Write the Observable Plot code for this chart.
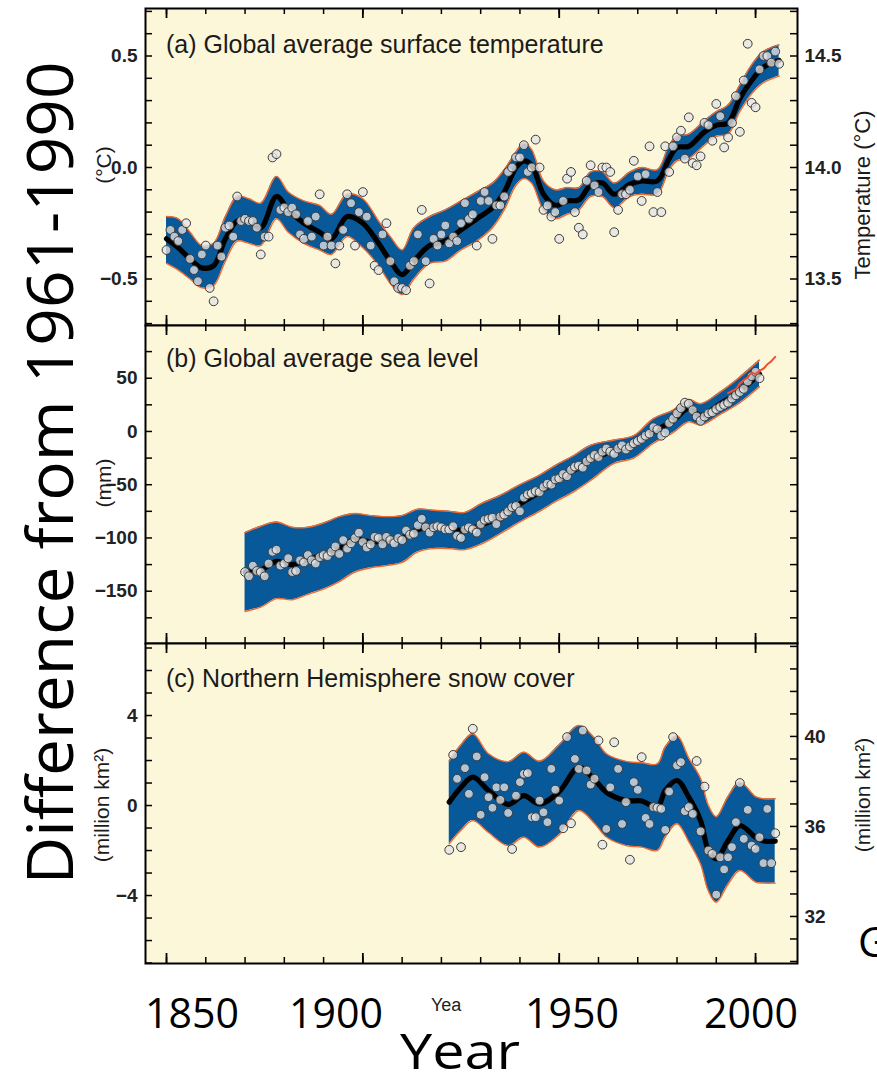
<!DOCTYPE html>
<html><head><meta charset="utf-8">
<script src="https://cdn.jsdelivr.net/npm/d3@7"></script>
<script src="https://cdn.jsdelivr.net/npm/@observablehq/plot@0.6"></script>
<style>
html,body{margin:0;padding:0;background:#fff;}
#root{position:relative;width:877px;height:1083px;overflow:hidden;background:#fff;}
#root > svg{position:absolute;left:0;}
</style></head><body><div id="root"></div>
<script>
// ---------- DATA ----------
// (a) Global average surface temperature, annual anomalies (°C), 1850-2006
const tempStart = 1850;
const tempValues = [
 -0.37,-0.28,-0.31,-0.33,-0.28,-0.25,-0.41,-0.46,-0.51,-0.39,
 -0.35,-0.54,-0.60,-0.35,-0.40,-0.27,-0.26,-0.31,-0.13,-0.24,
 -0.23,-0.24,-0.24,-0.27,-0.39,-0.31,-0.31,0.045,0.06,-0.19,
 -0.18,-0.20,-0.18,-0.21,-0.30,-0.32,-0.24,-0.31,-0.22,-0.12,
 -0.35,-0.31,-0.35,-0.43,-0.35,-0.28,-0.12,-0.16,-0.35,-0.20,
 -0.11,-0.22,-0.35,-0.44,-0.46,-0.30,-0.25,-0.42,-0.51,-0.54,
 -0.54,-0.55,-0.44,-0.42,-0.30,-0.19,-0.42,-0.52,-0.32,-0.35,
 -0.30,-0.26,-0.34,-0.31,-0.33,-0.25,-0.16,-0.23,-0.21,
 -0.35,-0.15,-0.11,-0.15,-0.32,-0.17,-0.17,-0.13,-0.02,0.0,
 0.045,0.045,0.10,-0.02,0.0,0.125,0.0,-0.19,-0.17,-0.22,
 -0.20,-0.32,-0.15,-0.05,-0.02,-0.20,-0.27,-0.30,-0.06,0.01,
 -0.08,-0.11,0.0,0.0,-0.02,-0.29,-0.19,-0.12,-0.12,-0.10,
 0.03,-0.04,-0.15,-0.03,0.095,-0.20,-0.11,-0.20,0.095,-0.02,
 0.095,0.135,0.165,0.04,0.225,0.02,0.01,0.05,0.20,0.19,
 0.12,0.285,0.23,0.09,0.135,0.20,0.32,0.16,0.39,0.555,
 0.29,0.27,0.44,0.50,0.50,0.47,0.52,0.465
];
const tempBandYears = [1850,1853,1856,1859,1862,1865,1868,1871,1874,1878,1881,1885,1889,1892,1896,1900,1904,1907,1910,1913,1917,1921,1925,1929,1933,1936,1939,1941,1943,1946,1949,1952,1955,1958,1961,1964,1968,1971,1975,1978,1980,1983,1987,1990,1993,1996,1999,2002,2006];
const tempSmooth = [-0.32,-0.36,-0.41,-0.45,-0.44,-0.32,-0.24,-0.24,-0.27,-0.13,-0.19,-0.25,-0.29,-0.32,-0.22,-0.25,-0.34,-0.42,-0.48,-0.42,-0.35,-0.33,-0.28,-0.23,-0.18,-0.11,0.0,0.03,0.01,-0.12,-0.17,-0.15,-0.145,-0.08,-0.07,-0.12,-0.075,-0.06,-0.06,0.04,0.09,0.095,0.16,0.19,0.20,0.31,0.39,0.45,0.48];
const tempLow = [-0.43,-0.46,-0.50,-0.54,-0.53,-0.42,-0.33,-0.34,-0.35,-0.23,-0.29,-0.34,-0.37,-0.39,-0.31,-0.36,-0.44,-0.52,-0.57,-0.50,-0.43,-0.42,-0.37,-0.33,-0.27,-0.19,-0.08,-0.05,-0.07,-0.19,-0.23,-0.21,-0.19,-0.13,-0.13,-0.18,-0.13,-0.12,-0.12,-0.01,0.03,0.04,0.10,0.14,0.15,0.25,0.33,0.38,0.41];
const tempHigh = [-0.22,-0.23,-0.29,-0.35,-0.34,-0.22,-0.13,-0.14,-0.16,-0.04,-0.11,-0.15,-0.17,-0.21,-0.12,-0.14,-0.24,-0.31,-0.37,-0.27,-0.22,-0.19,-0.15,-0.11,-0.07,-0.01,0.07,0.11,0.08,-0.06,-0.10,-0.09,-0.09,-0.02,-0.02,-0.07,-0.02,0.0,-0.01,0.10,0.14,0.15,0.21,0.25,0.28,0.37,0.46,0.52,0.55];

// (b) Global average sea level (mm), 1870-2001
const seaStart = 1870;
const seaValues = [
 -132,-136,-126,-131,-132,-136,-124,-113,-111,-126,
 -124,-119,-132,-131,-121,-123,-116,-121,-124,-118,
 -116,-117,-113,-108,-115,-102,-110,-105,-100,-95,
 -104,-109,-106,-99,-100,-106,-99,-102,-105,-100,
 -102,-93,-97,-96,-88,-82,-90,-95,-90,-89,
 -90,-92,-92,-89,-98,-100,-92,-90,-92,-95,
 -87,-83,-82,-81,-87,-80,-78,-75,-71,-70,
 -75,-62,-59,-58,-56,-57,-52,-49,-50,-45,
 -44,-40,-42,-36,-33,-32,-34,-28,-25,-22,
 -24,-19,-16,-19,-21,-16,-13,-17,-14,-11,
 -9,-7,-4,-2,4,2,-4,-1,8,12,
 17,22,27,26,20,14,10,14,17,18,
 21,23,25,27,31,34,37,40,47,52,
 56,50
];
const seaBandYears = [1870,1874,1878,1882,1886,1890,1894,1898,1902,1906,1910,1914,1918,1922,1926,1930,1935,1940,1945,1949,1954,1958,1964,1969,1974,1979,1983,1986,1991,1996,2001];
const seaSmooth = [-132,-130,-122,-125,-120,-116,-110,-101,-104,-102,-100,-92,-90,-91,-93,-88,-80,-68,-57,-47,-36,-27,-18,-13,0,10,22,15,26,38,54];
const seaLow = [-169,-165,-157,-158,-153,-148,-141,-132,-128,-126,-123,-113,-110,-110,-111,-106,-96,-85,-75,-66,-56,-46,-30,-25,-11,-1,9,6,16,27,42];
const seaHigh = [-95,-89,-85,-90,-90,-86,-80,-77,-79,-80,-79,-73,-74,-75,-76,-68,-60,-50,-41,-32,-22,-13,-8,-4,12,20,30,26,37,51,67];
const seaSatYears = [1993,1994,1995,1996,1997,1998,1999,2000,2001,2002,2003,2004,2005];
const seaSatValues = [36,38,40,45,48,51,55,54,57,59,63,66,70];

// (c) Northern Hemisphere snow cover (million km²), 1922-2005
const snowStart = 1922;
const snowValues = [
 -1.97,2.25,1.19,-1.85,1.66,0.52,3.41,2.18,-0.41,1.26,
 0.37,-0.10,0.81,0.25,0.81,-0.33,-1.93,0.44,1.04,1.41,
 1.44,-0.52,-0.52,0.22,-0.30,-0.74,1.63,0.71,0.22,-1.01,
 3.04,-0.79,2.07,1.63,3.33,1.56,0.93,1.19,2.89,-1.74,
 -1.04,0.81,2.81,1.63,-0.82,0.15,-2.41,1.04,0.70,2.15,
 -0.55,-0.82,-0.07,-0.10,-0.15,-1.08,0.62,3.04,1.78,1.93,
 -0.25,-0.07,-0.37,1.98,-1.15,0.84,-2.0,-2.15,-3.96,-2.30,
 -2.84,-2.30,-1.85,-0.74,1.0,-1.48,-0.19,-1.78,-1.93,-1.41,
 -2.56,-0.15,-2.56,-1.23
];
const snowBandYears = [1922,1925,1928,1932,1937,1941,1945,1950,1955,1959,1962,1967,1971,1975,1977,1980,1983,1986,1988,1990,1993,1996,2000,2002,2005];
const snowSmooth = [0.15,0.81,1.26,0.67,0.05,0.44,0.07,0.62,1.70,1.15,0.59,0.22,0.20,-0.07,0.67,1.11,0.37,-0.67,-2.0,-2.37,-1.56,-0.89,-1.41,-1.58,-1.58];
const snowLow = [-1.70,-1.10,-0.67,-1.20,-1.78,-1.41,-1.85,-1.30,-0.22,-0.80,-1.40,-1.78,-1.85,-2.00,-1.40,-0.81,-1.60,-2.60,-3.80,-4.30,-3.50,-2.89,-3.40,-3.45,-3.45];
const snowHigh = [1.99,2.70,3.19,2.30,1.95,2.37,1.97,2.70,3.56,3.00,2.30,1.96,1.90,1.85,2.60,3.10,2.10,1.20,0.00,-0.50,0.40,1.04,0.40,0.30,0.30];

// axes / ticks
const xTicksMinor = [1850,1860,1870,1880,1890,1900,1910,1920,1930,1940,1950,1960,1970,1980,1990,2000];
const xTicksMajor = [1850,1900,1950,2000];
const tempTickLabels = [0.5, 0.0, -0.5];
const tempAbsTickLabels = [14.5, 14.0, 13.5];
const tempAbsOffset = 14.0;
const seaTickLabels = [50, 0, -50, -100, -150];
const snowTickLabels = [4, 0, -4];
const snowAbsTickLabels = [40, 36, 32];
const snowAbsOffset = 36.93;

// ---------- STYLE ----------
const CREAM = "#fdf7da", BLUE = "#07599a", EDGE = "#ee6a33";
const CURVE = "catmull-rom";
const W = 877, ML = 145, MR = 80;
const X_DOMAIN = [1844.65, 2010.68];
const FONT = "'Liberation Sans', Arial, Helvetica, sans-serif";

const toRows = (start, vals) => vals.map((v, i) => ({year: start + i, value: v}));
const toBand = (yrs, mid, lo, hi) => yrs.map((y, i) => ({year: y, mid: mid[i], lo: lo[i], hi: hi[i]}));
const stepTicks = (a, b, s) => d3.range(Math.round(a / s), Math.round(b / s) + 1).map(k => +(k * s).toFixed(6));

function panel(o) {
  const fw = W - ML - MR;
  const fh = o.height - o.mt - o.mb;
  const [y0, y1] = o.yDomain;
  const inDom = v => v >= y0 - 1e-9 && v <= y1 + 1e-9;
  const marks = [
    Plot.frame({fill: CREAM, stroke: null}),
    Plot.areaY(o.band, {x: "year", y1: "lo", y2: "hi", fill: BLUE, curve: CURVE}),
    Plot.lineY(o.band, {x: "year", y: "lo", stroke: EDGE, strokeWidth: 1.4, curve: CURVE}),
    Plot.lineY(o.band, {x: "year", y: "hi", stroke: EDGE, strokeWidth: 1.4, curve: CURVE}),
    Plot.lineY(o.band, {x: "year", y: "mid", stroke: "#000", strokeWidth: 5.2, curve: CURVE}),
    Plot.dot(o.points, {x: "year", y: "value", r: 4.4, fill: "#e4e4e4", fillOpacity: 0.78, stroke: "#3a3a3a", strokeWidth: 1}),
    ...(o.extra || []),
    Plot.tickX(xTicksMinor, {x: d => d, stroke: "#000", strokeWidth: 1.5, insetBottom: fh - 6}),
    Plot.tickX(xTicksMinor, {x: d => d, stroke: "#000", strokeWidth: 1.5, insetTop: fh - 6}),
    Plot.tickX(xTicksMajor, {x: d => d, stroke: "#000", strokeWidth: 1.8, insetBottom: fh - 10}),
    Plot.tickX(xTicksMajor, {x: d => d, stroke: "#000", strokeWidth: 1.8, insetTop: fh - 10}),
    Plot.tickY(o.leftMinor.filter(inDom), {y: d => d, stroke: "#000", strokeWidth: 1.5, insetRight: fw - 7}),
    Plot.tickY(o.rightMinor.filter(inDom), {y: d => d, stroke: "#000", strokeWidth: 1.5, insetLeft: fw - 7}),
    Plot.frame({stroke: "#000", strokeWidth: 2}),
    Plot.axisY(o.leftLabels, {anchor: "left", tickSize: 0, tickPadding: 8, tickFormat: o.leftFormat, label: null,
      fontSize: 19, fontWeight: "bold", fill: "#222"})
  ];
  if (o.rightLabels) marks.push(Plot.axisY(o.rightLabels, {anchor: "right", tickSize: 0, tickPadding: 7, tickFormat: o.rightFormat, label: null,
      fontSize: 19, fontWeight: "bold", fill: "#222"}));
  const svg = Plot.plot({
    width: W, height: o.height,
    marginLeft: ML, marginRight: MR, marginTop: o.mt, marginBottom: o.mb,
    x: {domain: X_DOMAIN, axis: null},
    y: {domain: o.yDomain},
    style: {background: "transparent", overflow: "visible", fontFamily: FONT},
    marks
  });
  svg.style.top = o.top + "px";
  return svg;
}

const root = document.getElementById("root");
const fmt1 = d3.format(".1f");

root.appendChild(panel({
  top: 0, height: 325, mt: 8, mb: 0, yDomain: [-0.7085, 0.713],
  band: toBand(tempBandYears, tempSmooth, tempLow, tempHigh),
  points: toRows(tempStart, tempValues),
  leftMinor: stepTicks(-0.7, 0.7, 0.1), rightMinor: stepTicks(-0.7, 0.7, 0.1),
  leftLabels: tempTickLabels, leftFormat: d => fmt1(d),
  rightLabels: tempAbsTickLabels.map(v => v - tempAbsOffset), rightFormat: d => fmt1(d + tempAbsOffset)
}));

root.appendChild(panel({
  top: 325, height: 318, mt: 0, mb: 0, yDomain: [-199.1, 99.5],
  band: toBand(seaBandYears, seaSmooth, seaLow, seaHigh),
  points: toRows(seaStart, seaValues),
  extra: [Plot.lineY(seaSatYears.map((y, i) => ({year: y, value: seaSatValues[i]})), {x: "year", y: "value", stroke: "#ec4f32", strokeWidth: 2, curve: CURVE})],
  leftMinor: stepTicks(-175, 75, 25), rightMinor: stepTicks(-175, 75, 25),
  leftLabels: seaTickLabels, leftFormat: d => d3.format("d")(d)
}));

root.appendChild(panel({
  top: 643, height: 320, mt: 0, mb: 0, yDomain: [-7.02, 7.2],
  band: toBand(snowBandYears, snowSmooth, snowLow, snowHigh),
  points: toRows(snowStart, snowValues),
  leftMinor: stepTicks(-7, 7, 1), rightMinor: d3.range(30, 45).map(v => v - snowAbsOffset),
  leftLabels: snowTickLabels, leftFormat: d => d3.format("d")(d),
  rightLabels: snowAbsTickLabels.map(v => v - snowAbsOffset), rightFormat: d => String(Math.round(d + snowAbsOffset))
}));

// ---------- TEXT OVERLAY ----------
const ov = d3.create("svg").attr("width", W).attr("height", 1083)
  .style("top", "0px").style("pointer-events", "none");

const titles = [
  ["(a) Global average surface temperature", 166, 53],
  ["(b) Global average sea level", 166, 367],
  ["(c) Northern Hemisphere snow cover", 166, 687]
];
titles.forEach(([t, x, y]) => ov.append("text").attr("x", x).attr("y", y)
  .attr("font-family", FONT).attr("font-size", 25).attr("fill", "#1b1b1b").text(t));

const unitLabels = [
  ["(°C)", 103, 165, 21], ["(mm)", 103, 483, 21], ["(million km²)", 101, 805, 21],
  ["Temperature (°C)", 862, 195, 22], ["(million km²)", 862, 795, 21]
];
unitLabels.forEach(([t, x, y, fs]) => ov.append("text")
  .attr("transform", `translate(${x},${y}) rotate(-90)`)
  .attr("text-anchor", "middle").attr("dominant-baseline", "central")
  .attr("font-family", FONT).attr("font-size", fs).attr("fill", "#1b1b1b").text(t));

const BIG = "'Open Sans', 'Noto Sans', sans-serif";
ov.append("text").attr("transform", "translate(73,473) rotate(-90)")
  .attr("text-anchor", "middle")
  .attr("font-family", BIG).attr("font-size", 64)
  .attr("textLength", 823).attr("lengthAdjust", "spacingAndGlyphs")
  .attr("fill", "#000").text("Difference from 1961-1990");

const yearLabels = [["1850", 145], ["1900", 289], ["1950", 525], ["2000", 704]];
yearLabels.forEach(([t, x]) => ov.append("text").attr("x", x).attr("y", 1028)
  .attr("font-family", BIG).attr("font-size", 42)
  .attr("textLength", 94).attr("lengthAdjust", "spacingAndGlyphs").attr("fill", "#000").text(t));

ov.append("text").attr("x", 400).attr("y", 1069).attr("font-family", BIG).attr("font-size", 50)
  .attr("textLength", 120).attr("lengthAdjust", "spacingAndGlyphs").attr("fill", "#000").text("Year");
ov.append("text").attr("x", 431).attr("y", 1011).attr("font-family", FONT).attr("font-size", 18)
  .attr("fill", "#222").text("Yea");
ov.append("text").attr("x", 858).attr("y", 957).attr("font-family", BIG).attr("font-size", 42)
  .attr("fill", "#000").text("G");

root.appendChild(ov.node());
</script>
</body></html>
